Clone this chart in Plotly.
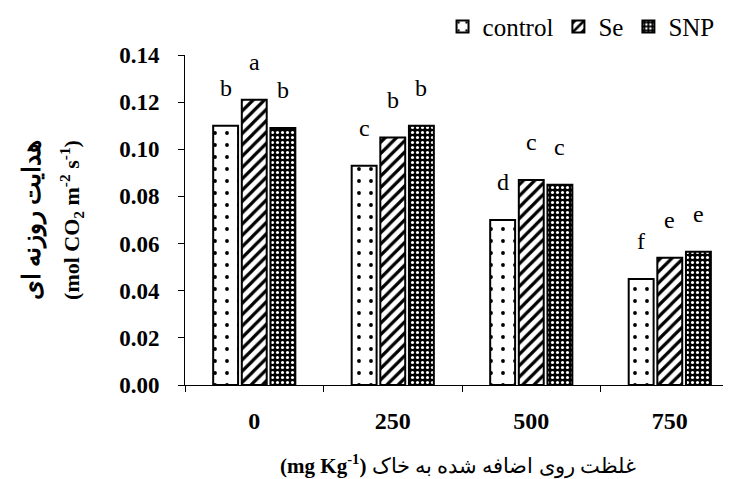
import plotly.graph_objects as go

categories = ["0", "250", "500", "750"]
control = [0.110, 0.093, 0.070, 0.045]
se = [0.121, 0.105, 0.087, 0.054]
snp = [0.109, 0.110, 0.085, 0.0565]
letters_control = ["b", "c", "d", "f"]
letters_se = ["a", "b", "c", "e"]
letters_snp = ["b", "b", "c", "e"]
series_names = ["control", "Se", "SNP"]

SERIF = "Liberation Serif"
BARGAP = 0.38
BARGROUPGAP = 0.13

fig = go.Figure()
styles = [
    dict(shape=".", fgcolor="black", bgcolor="white", size=12, solidity=0.08),
    dict(shape="/", fgcolor="black", bgcolor="white", size=8, solidity=0.4),
    dict(shape=".", fgcolor="white", bgcolor="black", size=5, solidity=0.3),
]
for name, vals, st in zip(series_names, [control, se, snp], styles):
    fig.add_trace(go.Bar(
        name=name, x=categories, y=vals,
        marker=dict(color=st["bgcolor"], line=dict(color="black", width=2),
                    pattern=dict(shape=st["shape"], fgcolor=st["fgcolor"],
                                 bgcolor=st["bgcolor"], size=st["size"],
                                 solidity=st["solidity"], fillmode="replace")),
    ))

slot = (1 - BARGAP) / 3
annotations = []
for k, (vals, lets) in enumerate(zip([control, se, snp], [letters_control, letters_se, letters_snp])):
    for i, (v, l) in enumerate(zip(vals, lets)):
        annotations.append(dict(
            x=i + (k - 1) * slot, y=v, xref="x", yref="y", text=l,
            showarrow=False, yanchor="bottom", yshift=23,
            font=dict(family=SERIF, size=24, color="black")))

fig.update_layout(
    width=723, height=471,
    margin=dict(l=177, r=0, t=47, b=94, autoexpand=False),
    paper_bgcolor="white", plot_bgcolor="white",
    bargap=BARGAP, bargroupgap=BARGROUPGAP,
    font=dict(family=SERIF, color="black"),
    showlegend=True,
    legend=dict(orientation="h", x=0.979, xanchor="right", y=1.016, yref="paper",
                yanchor="bottom", font=dict(family=SERIF, size=25, color="black"),
                itemwidth=30, bgcolor="rgba(0,0,0,0)"),
    annotations=annotations,
    xaxis=dict(
        type="category", range=[-0.5, 3.442], tickson="boundaries",
        ticks="outside", ticklen=6, tickcolor="black", ticklabelstandoff=14,
        showline=True, linecolor="black", linewidth=1, showgrid=False,
        tickfont=dict(family=SERIF, size=24, color="black", weight="bold"),
        title=dict(text="<b>(mg Kg<sup>-1</sup>)</b> غلظت روی اضافه شده به خاک",
                   font=dict(family=SERIF, size=21, color="black"), standoff=26),
    ),
    yaxis=dict(
        range=[0, 0.14], dtick=0.02, tickformat=".2f",
        ticks="outside", ticklen=6, tickcolor="black", ticklabelstandoff=14,
        showline=True, linecolor="black", linewidth=1, showgrid=False, zeroline=False,
        tickfont=dict(family=SERIF, size=23, color="black", weight="bold"),
        title=dict(text="<span style=\"font-size:25px\"><b>هدایت روزنه ای</b></span><br><span style=\"font-size:22px\"><b>(mol CO<sub>2</sub> m<sup>-2</sup> s<sup>-1</sup>)</b></span>",
                   font=dict(family=SERIF, size=30, color="black"), standoff=30),
    ),
)

fig.write_html("out.html")
